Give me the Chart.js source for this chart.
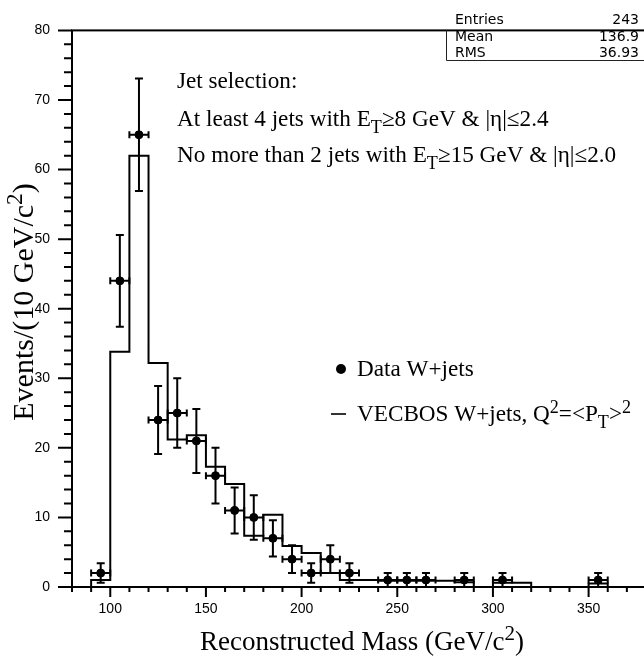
<!DOCTYPE html>
<html>
<head>
<meta charset="utf-8">
<script src="https://cdn.jsdelivr.net/npm/chart.js@4.4.0/dist/chart.umd.min.js"></script>
<style>
  html, body { margin: 0; padding: 0; background: #fff; overflow: hidden; }
  .wrap { width: 652px; height: 660px; }
</style>
</head>
<body>
<div class="wrap"><canvas id="massChart"></canvas></div>
<script>
// VECBOS histogram: low edge of each 10 GeV bin and its content
const binLowEdges = [80, 90, 100, 110, 120, 130, 140, 150, 160, 170, 180, 190, 200, 210, 220,
                     230, 240, 250, 260, 270, 280, 290, 300, 310, 320, 330, 340, 350, 360];
const vecbosCounts = [0, 1.0, 33.8, 62.0, 32.2, 21.2, 21.8, 17.3, 14.8, 7.35, 10.4, 5.9, 4.9, 2.0, 1.0,
                      1.0, 0.9, 0.9, 0.9, 0.9, 0.7, 0, 0.6, 0.6, 0, 0, 0, 0.5, 0];
const binWidth = 10;

// data W+jets points (bin centres), counts and vertical errors
const dataMass = [95, 105, 115, 125, 135, 145, 155, 165, 175, 185, 195, 205, 215, 225, 245, 255, 265, 285, 305, 355];
const dataCounts = [2, 44, 65, 24, 25, 21, 16, 11, 10, 7, 4, 2, 4, 2, 1, 1, 1, 1, 1, 1];
const dataErrors = [1.4, 6.6, 8.1, 4.9, 5.0, 4.6, 4.0, 3.3, 3.2, 2.6, 2.0, 1.4, 2.0, 1.4, 1, 1, 1, 1, 1, 1];

const xTickLabels = [100, 150, 200, 250, 300, 350];
const yTickLabels = [0, 10, 20, 30, 40, 50, 60, 70, 80];

const statsNames = ['Entries', 'Mean', 'RMS'];
const statsValues = ['243', '136.9', '36.93'];

const SERIF = '"Liberation Serif", "Times New Roman", serif';
const SANS = '"Liberation Sans", Arial, sans-serif';
const TEXT_SIZE = 23.2;
const SCRIPT = 0.78;

// parts: [text, shift] with shift 0 normal, 1 superscript, -1 subscript
function richWidth(ctx, parts, size, family) {
  let w = 0;
  parts.forEach(([t, s]) => {
    ctx.font = (s ? size * SCRIPT : size) + 'px ' + family;
    w += ctx.measureText(t).width;
  });
  return w;
}

function drawRich(ctx, parts, x, y, size, family) {
  parts.forEach(([t, s]) => {
    const fs = s ? size * SCRIPT : size;
    const dy = s === 1 ? -size * 0.36 : (s === -1 ? size * 0.3 : 0);
    ctx.font = fs + 'px ' + family;
    ctx.fillText(t, x, y + dy);
    x += ctx.measureText(t).width;
  });
}

const decor = {
  id: 'decor',
  afterDatasetsDraw(chart) {
    const { ctx, scales: { x, y } } = chart;
    ctx.save();
    ctx.strokeStyle = '#000';
    ctx.lineWidth = 2;
    dataMass.forEach((m, i) => {
      const px = x.getPixelForValue(m);
      const py = y.getPixelForValue(dataCounts[i]);
      const xl = x.getPixelForValue(m - binWidth / 2);
      const xr = x.getPixelForValue(m + binWidth / 2);
      const yt = y.getPixelForValue(dataCounts[i] + dataErrors[i]);
      const yb = y.getPixelForValue(dataCounts[i] - dataErrors[i]);
      ctx.beginPath();
      ctx.moveTo(xl, py); ctx.lineTo(xr, py);
      ctx.moveTo(xl, py - 3.5); ctx.lineTo(xl, py + 3.5);
      ctx.moveTo(xr, py - 3.5); ctx.lineTo(xr, py + 3.5);
      ctx.moveTo(px, yt); ctx.lineTo(px, yb);
      ctx.moveTo(px - 4, yt); ctx.lineTo(px + 4, yt);
      ctx.moveTo(px - 4, yb); ctx.lineTo(px + 4, yb);
      ctx.stroke();
    });
    ctx.restore();
  },
  afterDraw(chart) {
    const { ctx, chartArea: a, scales: { x, y } } = chart;
    ctx.save();
    ctx.strokeStyle = '#000';
    ctx.fillStyle = '#000';

    // frame
    ctx.lineWidth = 2;
    ctx.strokeRect(a.left, a.top, a.right - a.left, a.bottom - a.top);

    // ticks (outside the frame)
    ctx.beginPath();
    for (let v = x.min; v <= x.max; v += 10) {
      const px = x.getPixelForValue(v);
      ctx.moveTo(px, a.bottom);
      ctx.lineTo(px, a.bottom + (v % 50 === 0 ? 10 : 5));
    }
    for (let v = y.min; v <= y.max; v += 2) {
      const py = y.getPixelForValue(v);
      ctx.moveTo(a.left, py);
      ctx.lineTo(a.left - (v % 10 === 0 ? 14 : 8), py);
    }
    ctx.stroke();

    // axis titles
    ctx.textAlign = 'left';
    ctx.textBaseline = 'alphabetic';
    const xt = [['Reconstructed Mass (GeV/c', 0], ['2', 1], [')', 0]];
    const xw = richWidth(ctx, xt, 27, SERIF);
    drawRich(ctx, xt, (a.left + a.right) / 2 + 3 - xw / 2, 650, 27, SERIF);

    const yt = [['Events/(10 GeV/c', 0], ['2', 1], [')', 0]];
    const yw = richWidth(ctx, yt, 30, SERIF);
    ctx.save();
    ctx.translate(33, 302);
    ctx.rotate(-Math.PI / 2);
    drawRich(ctx, yt, -yw / 2, 0, 30, SERIF);
    ctx.restore();

    // jet selection text
    drawRich(ctx, [['Jet selection:', 0]], 177, 88, TEXT_SIZE, SERIF);
    drawRich(ctx, [['At least 4 jets with E', 0], ['T', -1], ['\u22658 GeV & |\u03b7|\u22642.4', 0]], 177, 126, TEXT_SIZE, SERIF);
    drawRich(ctx, [['No more than 2 jets with E', 0], ['T', -1], ['\u226515 GeV & |\u03b7|\u22642.0', 0]], 177, 162, TEXT_SIZE, SERIF);

    // legend
    ctx.beginPath();
    ctx.arc(341, 369, 5, 0, Math.PI * 2);
    ctx.fill();
    drawRich(ctx, [['Data W+jets', 0]], 357, 376, TEXT_SIZE, SERIF);
    ctx.lineWidth = 2;
    ctx.strokeStyle = '#333';
    ctx.beginPath();
    ctx.moveTo(331, 414); ctx.lineTo(346, 414);
    ctx.stroke();
    drawRich(ctx, [['VECBOS W+jets, Q', 0], ['2', 1], ['=<P', 0], ['T', -1], ['>', 0], ['2', 1]], 357, 421, TEXT_SIZE, SERIF);

    // stats box
    ctx.lineWidth = 1;
    ctx.strokeStyle = '#222';
    ctx.beginPath();
    ctx.moveTo(446.5, a.top);
    ctx.lineTo(446.5, 60.5);
    ctx.lineTo(a.right, 60.5);
    ctx.stroke();
    ctx.font = '14px "DejaVu Sans", sans-serif';
    statsNames.forEach((n, i) => {
      ctx.textAlign = 'left';
      ctx.fillText(n, 455, 24 + i * 16.5);
      ctx.textAlign = 'right';
      ctx.fillText(statsValues[i], 639, 24 + i * 16.5);
    });
    ctx.restore();
  }
};

const histPoints = binLowEdges.map((e, i) => ({ x: e, y: vecbosCounts[i] }));
histPoints.push({ x: binLowEdges[binLowEdges.length - 1] + binWidth, y: 0 });

const ctx = document.getElementById('massChart').getContext('2d');
new Chart(ctx, {
  type: 'scatter',
  data: {
    datasets: [
      {
        label: 'VECBOS W+jets',
        data: histPoints,
        showLine: true,
        stepped: true,
        borderColor: '#000',
        borderWidth: 2,
        pointRadius: 0,
        fill: false,
        order: 2
      },
      {
        label: 'Data W+jets',
        data: dataMass.map((m, i) => ({ x: m, y: dataCounts[i] })),
        pointRadius: 4,
        pointStyle: 'circle',
        backgroundColor: '#000',
        borderColor: '#000',
        order: 1
      }
    ]
  },
  options: {
    responsive: true,
    maintainAspectRatio: false,
    animation: false,
    layout: { padding: { top: 10, right: 6, left: 0, bottom: 0 } },
    plugins: {
      legend: { display: false },
      tooltip: { enabled: false }
    },
    scales: {
      x: {
        type: 'linear',
        min: 80,
        max: 380,
        afterFit(scale) { scale.height = 73; },
        afterBuildTicks(scale) { scale.ticks = xTickLabels.map(v => ({ value: v })); },
        grid: { display: false, drawTicks: false },
        border: { display: false },
        ticks: { color: '#000', font: { family: SANS, size: 14 }, padding: 14, maxRotation: 0 }
      },
      y: {
        min: 0,
        max: 80,
        afterFit(scale) { scale.width = 72; },
        afterBuildTicks(scale) { scale.ticks = yTickLabels.map(v => ({ value: v })); },
        grid: { display: false, drawTicks: false },
        border: { display: false },
        ticks: { color: '#000', font: { family: SANS, size: 14 }, padding: 22 }
      }
    }
  },
  plugins: [decor]
});
</script>
</body>
</html>
